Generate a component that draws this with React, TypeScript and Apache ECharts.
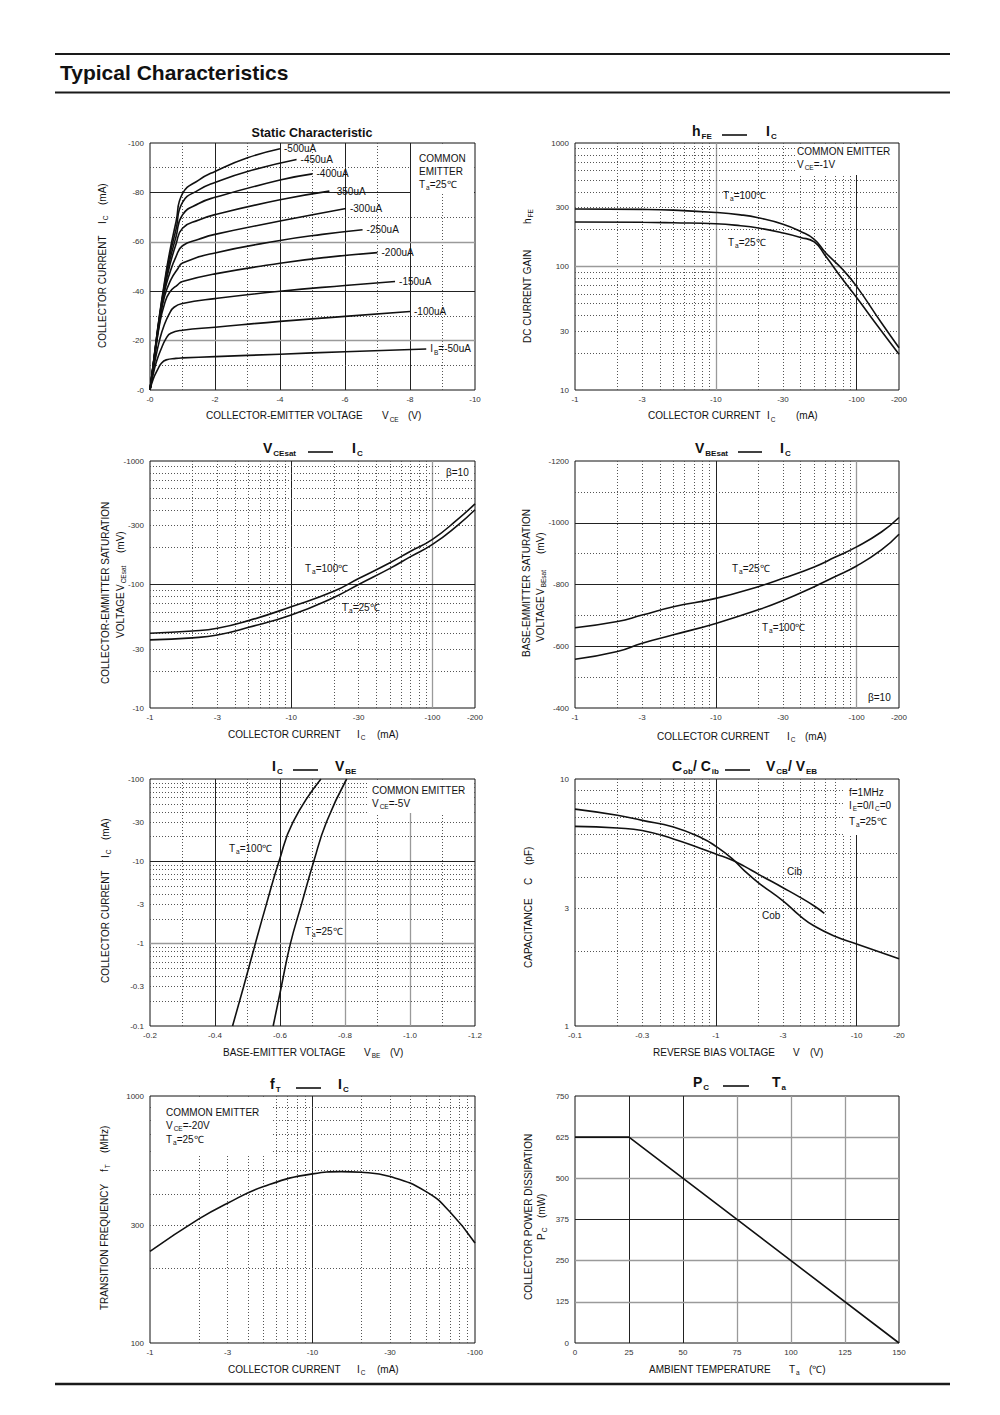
import React, { useEffect, useRef } from 'react';
import * as echarts from 'echarts';

const FONT = '"Liberation Sans", Arial, Helvetica, sans-serif';
const INK = '#111111';

// ===== Chart 1: Static characteristic  (|VCE| V, |IC| mA) =====
const ibLabels = ['-50uA', '-100uA', '-150uA', '-200uA', '-250uA', '-300uA', '-350uA', '-400uA', '-450uA', '-500uA'];
const ib50 = [[0, 0], [0.1, 4.5], [0.23, 8.1], [0.35, 10.8], [0.5, 12.2], [0.8, 12.8], [1, 13], [2, 13.5], [4, 14.5], [6, 15.5], [8.5, 16.6]];
const ib100 = [[0, 0], [0.1, 6.5], [0.2, 11.5], [0.33, 16.2], [0.5, 21], [0.64, 23], [1, 24.2], [2, 25.4], [4, 27.8], [6, 29.8], [8, 31.8]];
const ib150 = [[0, 0], [0.15, 11.5], [0.3, 20.5], [0.43, 26], [0.6, 31], [0.74, 33.5], [1, 35], [2, 37], [4, 40], [6, 42.3], [7.54, 43.9]];
const ib200 = [[0, 0], [0.15, 14], [0.3, 27], [0.45, 35], [0.6, 39.5], [0.85, 42.6], [1, 43.9], [2, 47], [4, 51.3], [5.5, 53.8], [7, 55.6]];
const ib250 = [[0, 0], [0.15, 14.5], [0.3, 28], [0.45, 38], [0.64, 44.6], [0.85, 49], [1, 51.4], [2, 55.5], [4, 60.5], [5.3, 63], [6.54, 64.9]];
const ib300 = [[0, 0], [0.15, 15], [0.3, 29], [0.45, 40], [0.6, 47], [0.8, 54], [1, 58.4], [1.5, 61], [2, 63], [4, 68.4], [6.03, 73.5]];
const ib350 = [[0, 0], [0.15, 15], [0.3, 29.5], [0.45, 41], [0.6, 50], [0.8, 59], [1, 65.5], [1.5, 68.8], [2, 71], [4, 77], [5.52, 80.5]];
const ib400 = [[0, 0], [0.15, 15.5], [0.3, 30], [0.45, 42], [0.6, 52], [0.8, 62], [1, 70.9], [1.5, 75.5], [2, 78], [4, 85], [5, 87.5]];
const ib450 = [[0, 0], [0.15, 15.5], [0.3, 30.5], [0.45, 43], [0.6, 54], [0.8, 65], [1, 76], [1.5, 81], [2, 84], [3, 88.5], [4.51, 93.3]];
const ib500 = [[0, 0], [0.15, 16], [0.3, 31], [0.45, 44], [0.6, 55.5], [0.8, 68], [1, 79.5], [1.5, 85], [2, 88.5], [3, 94], [4, 97.7]];
const ibCurves = [ib50, ib100, ib150, ib200, ib250, ib300, ib350, ib400, ib450, ib500];

// ===== Chart 2: hFE vs IC =====
const hfeIc = [1, 3, 5, 10, 15, 20, 30, 40, 50, 60, 80, 100, 150, 200];
const hfe100 = [292, 290, 286, 274, 262, 248, 220, 192, 166, 130, 94, 69, 35, 22];
const hfe25 = [229, 228, 226, 222, 214, 205, 187, 172, 158, 122, 78, 56, 30, 19.5];

// ===== Chart 3: VCEsat vs IC =====
const vceIc = [1, 2, 3, 5, 10, 20, 30, 50, 70, 100, 150, 200];
const vce100 = [40.3, 42, 44.2, 51, 66, 88, 111.7, 150, 186, 232, 335, 450];
const vce25 = [35.6, 37, 39, 45, 56.6, 78.5, 100, 135, 168, 211, 300, 403];

// ===== Chart 4: VBEsat vs IC =====
const vbeIc = [1, 2, 3, 5, 10, 20, 30, 50, 70, 100, 150, 200];
const vbe25 = [660, 680, 701, 728, 755, 793, 820, 857, 888, 922, 970, 1017];
const vbe100 = [558, 583, 610, 637, 674, 718, 748, 793, 825, 860, 912, 963];

// ===== Chart 5: IC vs VBE =====
const icVbeIc = [0.1, 0.3, 1, 3, 10, 30, 100];
const icVbe100 = [0.454, 0.488, 0.524, 0.558, 0.597, 0.64, 0.726];
const icVbe25 = [0.579, 0.604, 0.632, 0.666, 0.704, 0.743, 0.805];

// ===== Chart 6: Cob / Cib vs reverse voltage =====
const cobV = [0.1, 0.2, 0.3, 0.5, 0.8, 1, 1.3, 1.6, 2, 3, 4, 5, 7, 10, 20];
const cob = [7.55, 7.13, 6.8, 6.39, 5.76, 5.34, 4.77, 4.25, 3.81, 3.21, 2.78, 2.54, 2.31, 2.15, 1.87];
const cibV = [0.1, 0.2, 0.3, 0.5, 0.8, 1, 1.3, 1.6, 2, 3, 4, 5, 5.9];
const cib = [6.43, 6.33, 6.19, 5.72, 5.21, 4.97, 4.7, 4.43, 4.12, 3.63, 3.31, 3.06, 2.86];

// ===== Chart 7: fT vs IC =====
const ftIc = [1, 2, 3, 5, 10, 15, 20, 30, 50, 70, 100];
const ft = [235, 318, 368, 430, 484, 494, 491, 472, 410, 340, 254];

// ===== Chart 8: PC vs Ta =====
const pcTa = [0, 25, 150];
const pc = [625, 625, 0];

// ----- tick label values -----
const ticksIc200 = [1, 3, 10, 30, 100, 200];
const ticksIc100 = [1, 3, 10, 30, 100];
const ticksDecade10to1000 = [10, 30, 100, 300, 1000];
const ticksIcVbe = [0.1, 0.3, 1, 3, 10, 30, 100];
const ticksCapV = [0.1, 0.3, 1, 3, 10, 20];
const ticksCap = [1, 3, 10];
const ticksFt = [100, 300, 1000];

const zip = (xs: number[], ys: number[]) => xs.map((x, i) => [x, ys[i]]);

const GRIDS = [
  { left: 150, top: 143, width: 325, height: 247 },
  { left: 575, top: 143, width: 324, height: 247 },
  { left: 150, top: 461, width: 325, height: 247 },
  { left: 575, top: 461, width: 324, height: 247 },
  { left: 150, top: 779, width: 325, height: 247 },
  { left: 575, top: 779, width: 324, height: 247 },
  { left: 150, top: 1096, width: 325, height: 247 },
  { left: 575, top: 1096, width: 324, height: 247 },
];

const num = (v: any) => String(parseFloat(Number(v).toPrecision(6)));
const neg = (v: any) => '-' + num(v);
const neg1 = (v: any) => '-' + Number(v).toFixed(1);

function axis(gi: number, type: string, min: number, max: number, o: any) {
  const a: any = {
    gridIndex: gi,
    type,
    min,
    max,
    axisLine: { show: false },
    axisTick: { show: false },
    splitLine: { show: false },
    minorTick: { show: false },
    minorSplitLine: { show: false },
    axisLabel: {
      show: true,
      formatter: o.fmt,
      fontSize: 8,
      color: '#333',
      fontFamily: FONT,
      margin: o.margin ?? 5,
      showMinLabel: true,
      showMaxLabel: true,
      hideOverlap: false,
    },
  };
  if (type === 'log') a.logBase = 10;
  if (o.interval != null) a.interval = o.interval;
  if (o.custom) a.axisLabel.customValues = o.custom;
  return a;
}

const SOL = { type: 'solid', color: '#222', width: 1 };
const GRY = { type: 'solid', color: '#9a9a9a', width: 1.3 };
const DOT = { type: [1, 2], color: '#555', width: 1 };
const D1 = [2, 3, 4, 5, 6, 7, 8, 9];
const times = (arr: number[], k: number) => arr.map((v) => parseFloat((v * k).toPrecision(6)));

function gridLines(gi: number, anchor: number[], xs: any[], ys: any[]) {
  const data: any[] = [];
  xs.forEach(([vals, st]) => vals.forEach((v: number) => data.push({ xAxis: v, lineStyle: st })));
  ys.forEach(([vals, st]) => vals.forEach((v: number) => data.push({ yAxis: v, lineStyle: st })));
  return {
    type: 'line',
    xAxisIndex: gi,
    yAxisIndex: gi,
    data: [anchor],
    symbol: 'none',
    showSymbol: false,
    lineStyle: { opacity: 0 },
    silent: true,
    z: 1,
    markLine: {
      silent: true,
      symbol: ['none', 'none'],
      label: { show: false },
      emphasis: { disabled: true },
      animation: false,
      data,
    },
  };
}

function curve(gi: number, data: any[], extra: any = {}) {
  return {
    type: 'line',
    xAxisIndex: gi,
    yAxisIndex: gi,
    data,
    symbol: 'none',
    showSymbol: false,
    smooth: 0.5,
    silent: true,
    z: 10,
    lineStyle: { color: INK, width: 1.6 },
    ...extra,
  };
}

const RICH: any = {
  n: { fontSize: 10, fontFamily: FONT, fill: INK },
  s: { fontSize: 6.5, fontFamily: FONT, fill: INK, padding: [7, 0, 0, 1] },
  b: { fontSize: 14, fontFamily: FONT, fontWeight: 'bold', fill: INK },
  bs: { fontSize: 8, fontFamily: FONT, fontWeight: 'bold', fill: INK, padding: [11, 0, 0, 1] },
};

function txt(x: number, y: number, text: string, rot = false, align = 'left') {
  return {
    type: 'text',
    x,
    y,
    z: 30,
    rotation: rot ? Math.PI / 2 : 0,
    silent: true,
    style: {
      text: text.includes('{') ? text : `{n|${text}}`,
      rich: RICH,
      fontSize: 10,
      fontFamily: FONT,
      fill: INK,
      align,
      verticalAlign: 'middle',
    },
  };
}
function box(x: number, y: number, w: number, h: number) {
  return { type: 'rect', z: 20, silent: true, shape: { x, y, width: w, height: h }, style: { fill: '#ffffff' } };
}
function dash(x1: number, x2: number, y: number) {
  return { type: 'line', z: 30, silent: true, shape: { x1, y1: y, x2, y2: y }, style: { stroke: INK, lineWidth: 1.6 } };
}
function title(x1: number, left: string, d1: number, d2: number, x2: number, right: string, y: number) {
  return [txt(x1, y, left), dash(d1, d2, y + 4), txt(x2, y, right)];
}
function hline(x1: number, x2: number, y: number, w: number) {
  return { type: 'line', z: 30, silent: true, shape: { x1, y1: y, x2, y2: y }, style: { stroke: '#1a1a1a', lineWidth: w } };
}

const Ta = (t: string) => `{n|T}{s|a}{n|=${t}℃}`;

function buildOption() {
  const xAxis = [
    axis(0, 'value', 0, 10, { interval: 2, fmt: neg }),
    axis(1, 'log', 1, 200, { custom: ticksIc200, fmt: neg }),
    axis(2, 'log', 1, 200, { custom: ticksIc200, fmt: neg }),
    axis(3, 'log', 1, 200, { custom: ticksIc200, fmt: neg }),
    axis(4, 'value', 0.2, 1.2, { interval: 0.2, fmt: neg1 }),
    axis(5, 'log', 0.1, 20, { custom: ticksCapV, fmt: neg }),
    axis(6, 'log', 1, 100, { custom: ticksIc100, fmt: neg }),
    axis(7, 'value', 0, 150, { interval: 25, fmt: num }),
  ];
  const yAxis = [
    axis(0, 'value', 0, 100, { interval: 20, fmt: neg, margin: 6 }),
    axis(1, 'log', 10, 1000, { custom: ticksDecade10to1000, fmt: num, margin: 6 }),
    axis(2, 'log', 10, 1000, { custom: ticksDecade10to1000, fmt: neg, margin: 6 }),
    axis(3, 'value', 400, 1200, { interval: 200, fmt: neg, margin: 6 }),
    axis(4, 'log', 0.1, 100, { custom: ticksIcVbe, fmt: neg, margin: 6 }),
    axis(5, 'log', 1, 10, { custom: ticksCap, fmt: num, margin: 6 }),
    axis(6, 'log', 100, 1000, { custom: ticksFt, fmt: num, margin: 6 }),
    axis(7, 'value', 0, 750, { interval: 125, fmt: num, margin: 6 }),
  ];

  const series: any[] = [
    gridLines(0, [0, 0], [[[2, 4, 6, 8], SOL], [[1, 3, 5, 7, 9], DOT]], [[[40, 80], SOL], [[20, 60], GRY], [[10, 30, 50, 70, 90], DOT]]),
    gridLines(1, [1, 10], [[[10], GRY], [[100], SOL], [[...D1, ...times(D1, 10)], DOT]], [[[100], GRY], [[...times(D1, 10), ...times(D1, 100)], DOT]]),
    gridLines(2, [1, 10], [[[10], SOL], [[100], GRY], [[...D1, ...times(D1, 10)], DOT]], [[[100], SOL], [[...times(D1, 10), ...times(D1, 100)], DOT]]),
    gridLines(3, [1, 400], [[[10], SOL], [[100], GRY], [[...D1, ...times(D1, 10)], DOT]], [[[600, 800, 1000], SOL], [[500, 700, 900, 1100], DOT]]),
    gridLines(4, [0.2, 0.1], [[[0.4, 0.6], SOL], [[0.8, 1.0], GRY], [[0.3, 0.5, 0.7, 0.9, 1.1], DOT]], [[[10], SOL], [[1], GRY], [[...times(D1, 0.1), ...D1, ...times(D1, 10)], DOT]]),
    gridLines(5, [0.1, 1], [[[1, 10], SOL], [[...times(D1, 0.1), ...D1], DOT]], [[D1, DOT]]),
    gridLines(6, [1, 100], [[[10], SOL], [[...D1, ...times(D1, 10)], DOT]], [[times(D1, 100), DOT]]),
    gridLines(7, [0, 0], [[[25, 50], SOL], [[75, 100, 125], GRY]], [[[375], SOL], [[125, 250, 500, 625], GRY]]),
  ];

  ibCurves.forEach((d, i) => {
    const label = ibLabels[i];
    series.push(
      curve(0, d, {
        endLabel: {
          show: true,
          distance: 4,
          formatter: () => (i === 0 ? `{n|I}{s|B}{n|=${label}}` : label),
          fontSize: 10,
          fontFamily: FONT,
          color: INK,
          rich: {
            n: { fontSize: 10, fontFamily: FONT, color: INK },
            s: { fontSize: 6.5, fontFamily: FONT, color: INK, padding: [7, 0, 0, 1] },
          },
        },
      })
    );
  });
  series.push(curve(1, zip(hfeIc, hfe100)), curve(1, zip(hfeIc, hfe25)));
  series.push(curve(2, zip(vceIc, vce100)), curve(2, zip(vceIc, vce25)));
  series.push(curve(3, zip(vbeIc, vbe25)), curve(3, zip(vbeIc, vbe100)));
  series.push(curve(4, zip(icVbe100, icVbeIc)), curve(4, zip(icVbe25, icVbeIc)));
  series.push(curve(5, zip(cobV, cob)), curve(5, zip(cibV, cib)));
  series.push(curve(6, zip(ftIc, ft)));
  series.push(curve(7, zip(pcTa, pc), { smooth: false }));

  const g: any[] = [
    // header
    hline(55, 950, 54, 2),
    hline(55, 950, 92.5, 2),
    hline(55, 950, 1384, 2.5),
    {
      type: 'text', x: 60, y: 72, z: 30, silent: true,
      style: { text: 'Typical Characteristics', fontSize: 21, fontWeight: 'bold', fontFamily: FONT, fill: INK, align: 'left', verticalAlign: 'middle' },
    },

    // chart 1
    box(411, 144, 63, 50),
    txt(419, 158, 'COMMON'), txt(419, 171, 'EMITTER'), txt(419, 184, Ta('25')),
    {
      type: 'text', x: 312, y: 133, z: 30, silent: true,
      style: { text: 'Static Characteristic', fontSize: 12.5, fontWeight: 'bold', fontFamily: FONT, fill: INK, align: 'center', verticalAlign: 'middle' },
    },
    txt(206, 415.5, 'COLLECTOR-EMITTER VOLTAGE'), txt(382, 415.5, '{n|V}{s|CE}'), txt(408, 415.5, '(V)'),
    txt(102, 348, 'COLLECTOR CURRENT', true), txt(102, 224, '{n|I}{s|C}', true), txt(102, 205, '(mA)', true),

    // chart 2
    box(795, 144, 103, 31),
    txt(797, 151, 'COMMON EMITTER'), txt(797, 164, '{n|V}{s|CE}{n|=-1V}'),
    txt(723, 195, Ta('100')), txt(728, 242, Ta('25')),
    ...title(692, '{b|h}{bs|FE}', 722, 747, 766, '{b|I}{bs|C}', 131),
    txt(648, 415.5, 'COLLECTOR CURRENT'), txt(767, 415.5, '{n|I}{s|C}'), txt(796, 415.5, '(mA)'),
    txt(527, 343, 'DC CURRENT GAIN', true), txt(527, 224, '{n|h}{s|FE}', true),

    // chart 3
    box(440, 462, 34, 18),
    txt(446, 472, 'β=10'),
    txt(305, 568, Ta('100')), txt(342, 607, Ta('25')),
    ...title(263, '{b|V}{bs|CEsat}', 308, 333, 352, '{b|I}{bs|C}', 448),
    txt(228, 734, 'COLLECTOR CURRENT'), txt(357, 734, '{n|I}{s|C}'), txt(377, 734, '(mA)'),
    txt(105, 684, 'COLLECTOR-EMMITTER SATURATION', true),
    txt(120, 638, 'VOLTAGE', true), txt(120, 591, '{n|V}{s|CEsat}', true), txt(120, 553, '(mV)', true),

    // chart 4
    txt(868, 697, 'β=10'),
    txt(732, 568, Ta('25')), txt(762, 627, Ta('100')),
    ...title(695, '{b|V}{bs|BEsat}', 738, 762, 780, '{b|I}{bs|C}', 448),
    txt(657, 736, 'COLLECTOR CURRENT'), txt(787, 736, '{n|I}{s|C}'), txt(805, 736, '(mA)'),
    txt(526, 657, 'BASE-EMMITTER SATURATION', true),
    txt(540, 642, 'VOLTAGE', true), txt(540, 595, '{n|V}{s|BEsat}', true), txt(540, 554, '(mV)', true),

    // chart 5
    box(368, 780, 106, 33),
    txt(372, 790, 'COMMON EMITTER'), txt(372, 803, '{n|V}{s|CE}{n|=-5V}'),
    txt(229, 848, Ta('100')), txt(305, 931, Ta('25')),
    ...title(272, '{b|I}{bs|C}', 293, 318, 335, '{b|V}{bs|BE}', 766),
    txt(223, 1052, 'BASE-EMITTER VOLTAGE'), txt(364, 1052, '{n|V}{s|BE}'), txt(390, 1052, '(V)'),
    txt(105, 983, 'COLLECTOR CURRENT', true), txt(105, 858, '{n|I}{s|C}', true), txt(105, 840, '(mA)', true),

    // chart 6
    box(843, 780, 55, 55),
    txt(849, 792, 'f=1MHz'), txt(849, 805, '{n|I}{s|E}{n|=0/I}{s|C}{n|=0}'), txt(849, 821, Ta('25')),
    txt(787, 871, 'Cib'), txt(762, 915, 'Cob'),
    ...title(672, '{b|C}{bs|ob}{b|/ C}{bs|ib}', 725, 750, 766, '{b|V}{bs|CB}{b|/ V}{bs|EB}', 766),
    txt(653, 1052, 'REVERSE BIAS VOLTAGE'), txt(793, 1052, 'V'), txt(810, 1052, '(V)'),
    txt(528, 968, 'CAPACITANCE', true), txt(528, 885, 'C', true), txt(528, 865, '(pF)', true),

    // chart 7
    box(151, 1097, 122, 58),
    txt(166, 1112, 'COMMON EMITTER'), txt(166, 1125, '{n|V}{s|CE}{n|=-20V}'), txt(166, 1139, Ta('25')),
    ...title(270, '{b|f}{bs|T}', 296, 321, 338, '{b|I}{bs|C}', 1084),
    txt(228, 1369, 'COLLECTOR CURRENT'), txt(357, 1369, '{n|I}{s|C}'), txt(377, 1369, '(mA)'),
    txt(104, 1310, 'TRANSITION FREQUENCY', true), txt(104, 1172, '{n|f}{s|T}', true), txt(104, 1153, '(MHz)', true),

    // chart 8
    ...title(693, '{b|P}{bs|C}', 723, 749, 772, '{b|T}{bs|a}', 1082),
    txt(649, 1369, 'AMBIENT TEMPERATURE'), txt(789, 1369, '{n|T}{s|a}'), txt(809, 1369, '(℃)'),
    txt(528, 1300, 'COLLECTOR POWER DISSIPATION', true),
    txt(541, 1240, '{n|P}{s|C}', true), txt(541, 1218, '(mW)', true),
  ];

  return {
    animation: false,
    backgroundColor: '#ffffff',
    textStyle: { fontFamily: FONT },
    grid: GRIDS.map((gr) => ({
      ...gr,
      show: true,
      borderColor: '#111',
      borderWidth: 1,
      backgroundColor: 'transparent',
      containLabel: false,
      outerBoundsMode: 'none',
    })),
    xAxis,
    yAxis,
    series,
    graphic: { elements: g },
  };
}

export default function App() {
  const ref = useRef<HTMLDivElement>(null);
  useEffect(() => {
    const chart = echarts.init(ref.current as HTMLDivElement, null, { renderer: 'svg', width: 1000, height: 1415 });
    chart.setOption(buildOption() as any);
    return () => chart.dispose();
  }, []);
  return (
    <div
      ref={ref}
      style={{ position: 'absolute', left: 0, top: 0, width: 1000, height: 1415, background: '#fff' }}
    />
  );
}
